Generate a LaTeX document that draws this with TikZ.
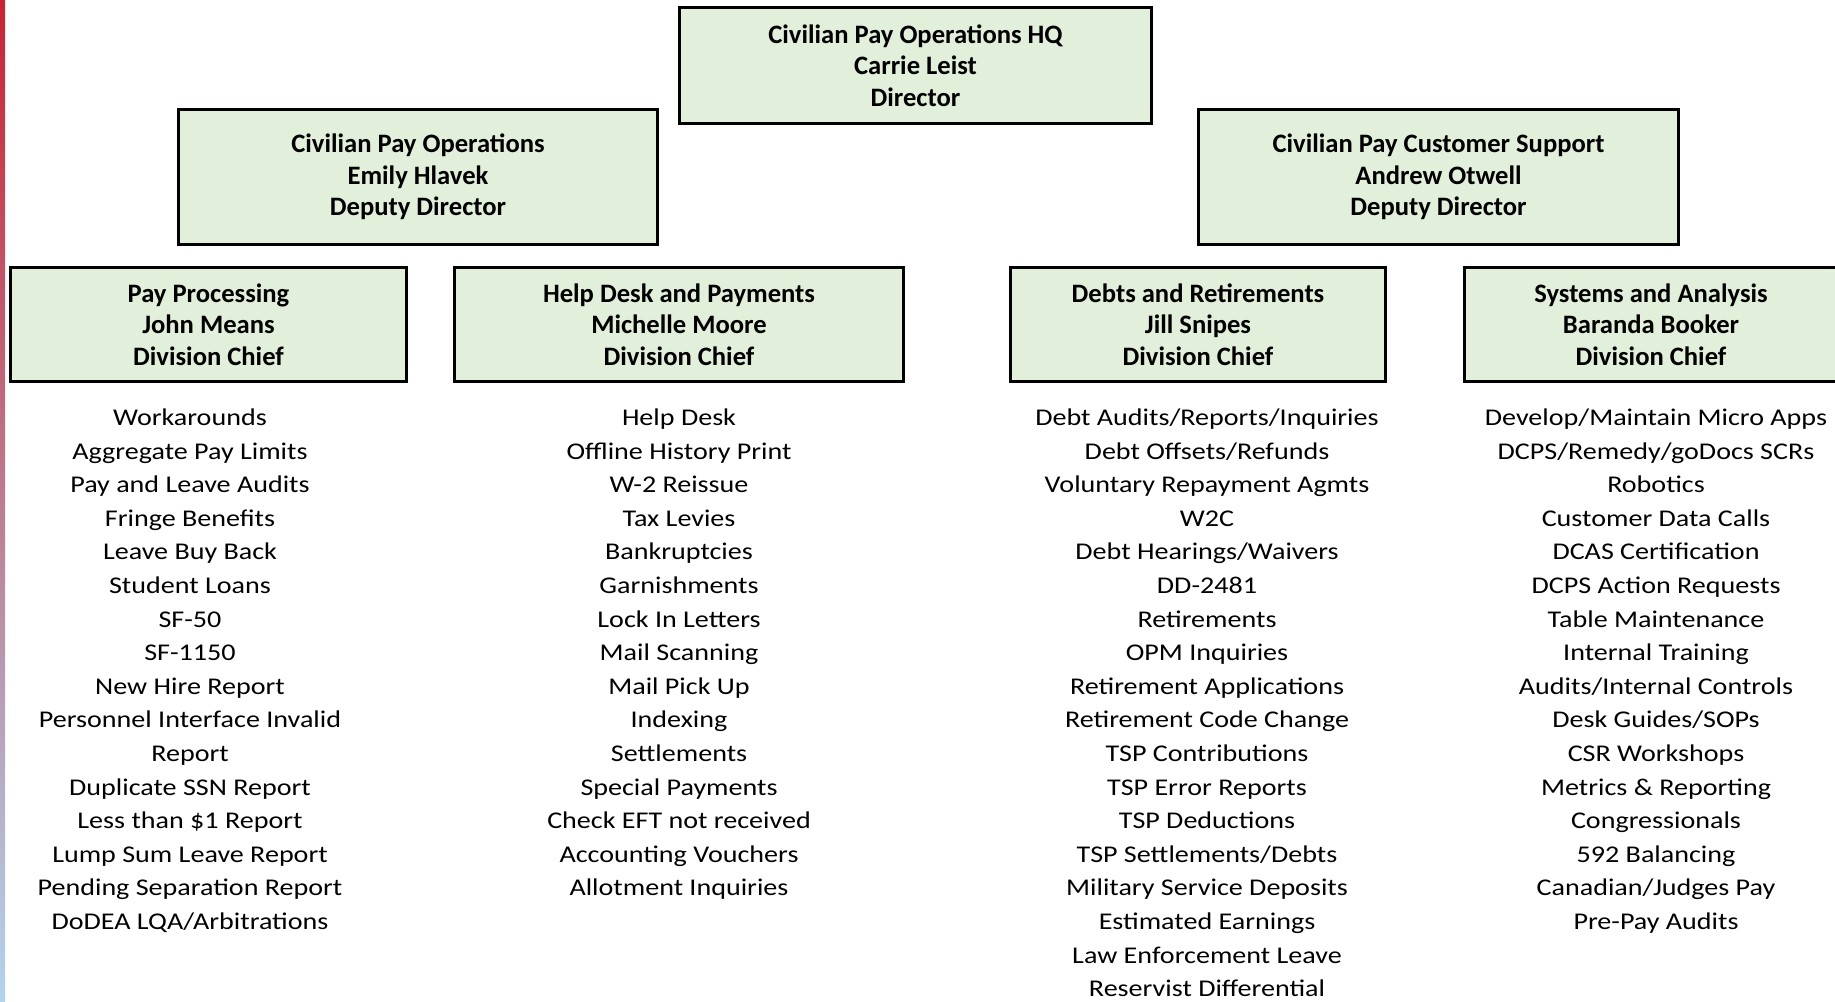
\documentclass[tikz,border=0pt]{standalone}
\usepackage{fontspec}
\setmainfont{Carlito}
\newfontfamily\dutyfont[FakeStretch=1.17]{Carlito}
\usepackage{tikz}
\usetikzlibrary{positioning}
\definecolor{boxgreen}{RGB}{226,239,218}
\definecolor{barred}{RGB}{198,36,52}
\definecolor{barmauve}{RGB}{190,140,170}
\definecolor{barblue}{RGB}{178,212,238}
\tikzstyle{orgbox} = [rectangle, draw=black, line width=1.5pt, fill=boxgreen, align=center, font=\fontsize{13.3}{15.8}\selectfont\bfseries]
\tikzstyle{duties} = [align=center, inner sep=0pt, anchor=north, font=\dutyfont\fontsize{12}{16.8}\selectfont]

\begin{document}
\begin{tikzpicture}[x=0.5pt, y=-0.5pt]
        \useasboundingbox (0,0) rectangle (1835,1001);
        \clip (0,0) rectangle (1835,1001);
        \shade[top color=barred, middle color=barmauve, bottom color=barblue] (0,0) rectangle (5,1001);

        \node (hq) [orgbox, minimum width=236pt, minimum height=58pt] at (915.5,65.5) {Civilian Pay Operations HQ\\Carrie Leist\\Director};
        \node (ops) [orgbox, minimum width=239.5pt, minimum height=67.5pt] at (418,177) {Civilian Pay Operations\\Emily Hlavek\\Deputy Director};
        \node (support) [orgbox, minimum width=240pt, minimum height=67.5pt] at (1438.5,177) {Civilian Pay Customer Support\\Andrew Otwell\\Deputy Director};

        \node (payproc) [orgbox, minimum width=198pt, minimum height=57pt] at (208.5,324.5) {Pay Processing\\John Means\\Division Chief};
        \node (helpdesk) [orgbox, minimum width=224.5pt, minimum height=57pt] at (679,324.5) {Help Desk and Payments\\Michelle Moore\\Division Chief};
        \node (debts) [orgbox, minimum width=187.5pt, minimum height=57pt] at (1198,324.5) {Debts and Retirements\\Jill Snipes\\Division Chief};
        \node (systems) [orgbox, minimum width=186.5pt, minimum height=57pt] at (1651,324.5) {Systems and Analysis\\Baranda Booker\\Division Chief};

        \node (payproc_list) [duties] at (190,401.5) {\strut Workarounds\\Aggregate Pay Limits\\Pay and Leave Audits\\Fringe Benefits\\Leave Buy Back\\Student Loans\\SF-50\\SF-1150\\New Hire Report\\Personnel Interface Invalid\\Report\\Duplicate SSN Report\\Less than \$1 Report\\Lump Sum Leave Report\\Pending Separation Report\\DoDEA LQA/Arbitrations};
        \node (helpdesk_list) [duties] at (679,401.5) {\strut Help Desk\\Offline History Print\\W-2 Reissue\\Tax Levies\\Bankruptcies\\Garnishments\\Lock In Letters\\Mail Scanning\\Mail Pick Up\\Indexing\\Settlements\\Special Payments\\Check EFT not received\\Accounting Vouchers\\Allotment Inquiries};
        \node (debts_list) [duties] at (1207,401.5) {\strut Debt Audits/Reports/Inquiries\\Debt Offsets/Refunds\\Voluntary Repayment Agmts\\W2C\\Debt Hearings/Waivers\\DD-2481\\Retirements\\OPM Inquiries\\Retirement Applications\\Retirement Code Change\\TSP Contributions\\TSP Error Reports\\TSP Deductions\\TSP Settlements/Debts\\Military Service Deposits\\Estimated Earnings\\Law Enforcement Leave\\Reservist Differential};
        \node (systems_list) [duties] at (1656,401.5) {\strut Develop/Maintain Micro Apps\\DCPS/Remedy/goDocs SCRs\\Robotics\\Customer Data Calls\\DCAS Certification\\DCPS Action Requests\\Table Maintenance\\Internal Training\\Audits/Internal Controls\\Desk Guides/SOPs\\CSR Workshops\\Metrics \& Reporting\\Congressionals\\592 Balancing\\Canadian/Judges Pay\\Pre-Pay Audits};
\end{tikzpicture}
\end{document}
